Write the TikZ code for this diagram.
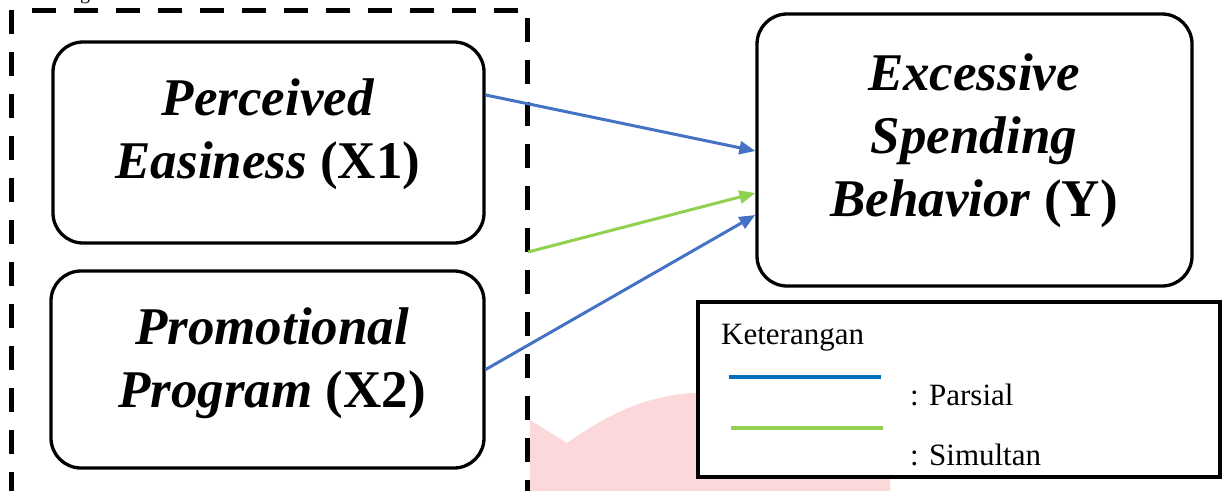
\documentclass[tikz,border=0pt]{standalone}
\usepackage{fontspec}
\setmainfont{Liberation Serif}
\usetikzlibrary{arrows.meta,calc}
\definecolor{arrblue}{HTML}{4472C4}
\definecolor{arrgreen}{HTML}{92D050}
\definecolor{legblue}{HTML}{0070C0}
\definecolor{pinkwm}{HTML}{FDD8DB}
\begin{document}
\begin{tikzpicture}[x=1pt,y=-1pt,
  varbox/.style={draw=black, line width=3.3pt, rounded corners=30pt, fill=white, inner sep=0pt},
  vartext/.style={align=center, inner sep=0pt, font=\fontsize{53}{63}\selectfont},
  frameline/.style={line width=5.5pt, dash pattern=on 23.5pt off 18.5pt},
  link/.style={line width=3pt, -{Triangle[length=16pt,width=13pt]}},
  legtext/.style={font=\fontsize{31}{37}\selectfont, anchor=base west, inner sep=0pt},
  sample/.style={line width=3.5pt},
]
\useasboundingbox (0,0) rectangle (1223,490);
% watermark fragment
\fill[pinkwm] (530,420) -- (567,443) .. controls (600,420) and (640,396) .. (693,393)
  -- (890,393) -- (890,495) -- (530,495) -- cycle;
% cut-off caption fragment
\node[anchor=base, inner sep=0pt, font=\fontsize{20}{24}\selectfont] (capfrag) at (85,-1) {g};
% dashed frame
\draw[frameline] (11.5,10) -- (11.5,500);
\draw[frameline] (32,10.5) -- (530,10.5);
\draw[frameline] (527.5,18) -- (527.5,500);
% boxes
\node[varbox, minimum width=431pt, minimum height=201pt] (x1) at (268.5,142.5) {};
\node[vartext] (x1t) at (268,134) {\textbf{\textit{Perceived}}\\\textbf{\textit{Easiness} (X1)}};
\node[varbox, minimum width=433pt, minimum height=197pt] (x2) at (267.5,369.5) {};
\node[vartext] (x2t) at (272,363) {\textbf{\textit{Promotional}}\\\textbf{\textit{Program} (X2)}};
\node[varbox, minimum width=435pt, minimum height=272pt] (ybox) at (974.5,150) {};
\node[vartext] (yt) at (974,140.5) {\textbf{\textit{Excessive}}\\\textbf{\textit{Spending}}\\\textbf{\textit{Behavior} (Y)}};
% connectors
\coordinate (gs) at (528,252);
\draw[link, arrblue] ([yshift=47.5pt]x1.east) -- ([yshift=-1pt]ybox.west);
\draw[link, arrgreen] (gs) -- ([yshift=-43pt]ybox.west);
\draw[link, arrblue] (x2.east) -- ([yshift=-65pt]ybox.west);
% legend
\node[draw=black, line width=3.5pt, fill=white, minimum width=522pt, minimum height=175pt, inner sep=0pt] (leg) at (959,389.5) {};
\node[legtext] (legt) at (721,344) {Keterangan};
\node[legtext] (parsial) at (910,405) {: Parsial};
\node[legtext] (simultan) at (910,465) {: Simultan};
\draw[sample, legblue] (729,377) -- (881,377);
\draw[sample, arrgreen] (731,428) -- (883,428);
\end{tikzpicture}
\end{document}
